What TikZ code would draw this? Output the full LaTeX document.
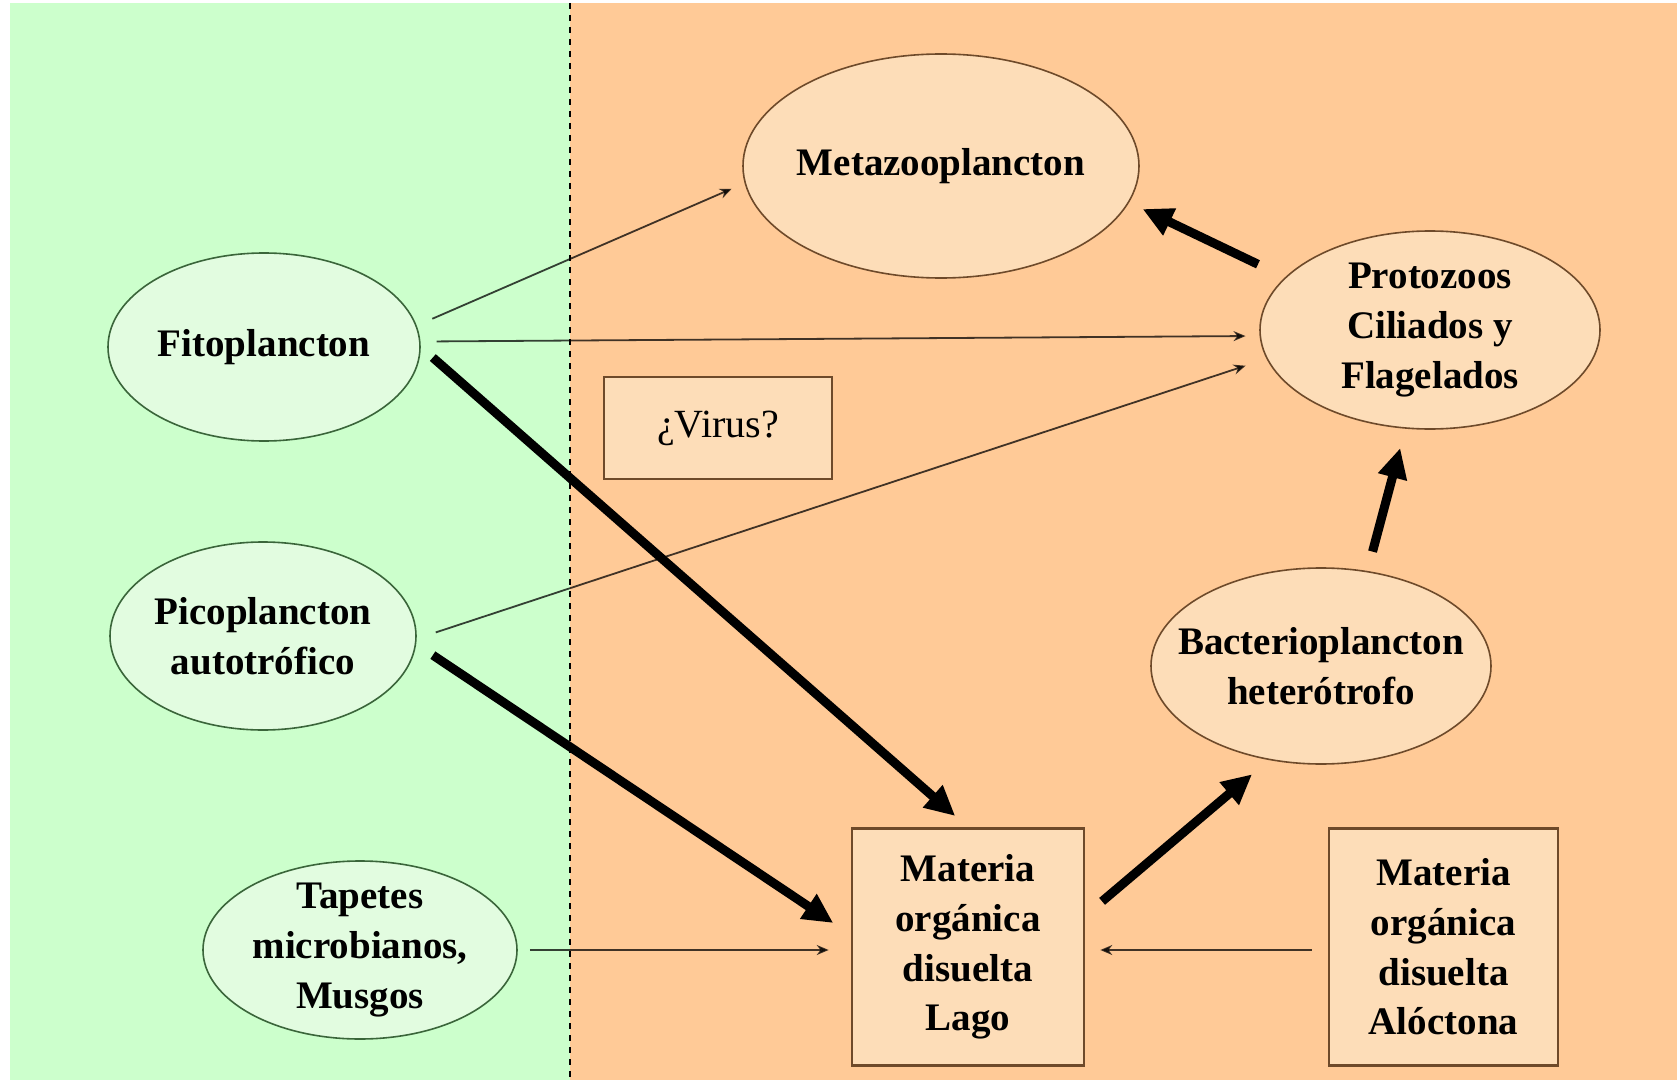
\documentclass[tikz,border=0pt]{standalone}
\usepackage{fontspec}
\setmainfont{Liberation Serif}
\usetikzlibrary{arrows.meta,shapes.geometric}
\definecolor{GreenBack}{HTML}{CCFFCC}
\definecolor{OrangeBack}{HTML}{FFCA97}
\definecolor{GreenSoft}{HTML}{E2FCE0}
\definecolor{OrangeSoft}{HTML}{FDDDB8}
\definecolor{GreenLine}{HTML}{3A653A}
\definecolor{BrownLine}{HTML}{6E4A2A}

\begin{document}
\begin{tikzpicture}[x=0.5pt,y=-0.5pt, every node/.style={font=\fontsize{19.5}{24.8}\selectfont\bfseries, align=center, inner sep=0pt},
  greenell/.style={ellipse, draw=GreenLine, fill=GreenSoft, line width=0.8pt},
  orangeell/.style={ellipse, draw=BrownLine, fill=OrangeSoft, line width=0.8pt},
  orangebox/.style={rectangle, draw=BrownLine, fill=OrangeSoft, line width=1.3pt},
  thinarrow/.style={-{Stealth[length=6pt,width=5pt]}, line width=0.9pt, black, opacity=0.75},
  thickarrow/.style={-{Triangle[length=15pt,width=14pt]}, line width=4.5pt, black}]
  \useasboundingbox (0,0) rectangle (1677,1086);
  % two zones
  \fill[white] (0,0) rectangle (1677,1086);
  \fill[GreenBack] (10,3) rectangle (570,1080);
  \fill[OrangeBack] (570,3) rectangle (1677,1080);
  \draw[dashed, line width=0.6pt] (570,3) -- (570,1080);

  % ellipses
  \node[orangeell, minimum width=198pt, minimum height=112pt, label={center:Metazooplancton}] (meta) at (941,166) {};
  \node[orangeell, minimum width=170pt, minimum height=99pt, label={center:{Protozoos\\Ciliados y\\Flagelados}}] (proto) at (1430,330) {};
  \node[greenell, minimum width=156pt, minimum height=94pt, label={center:Fitoplancton}] (fito) at (264,347) {};
  \node[greenell, minimum width=153pt, minimum height=94pt, label={center:{Picoplancton\\autotrófico}}] (pico) at (263,636) {};
  \node[greenell, minimum width=157pt, minimum height=89pt, label={center:{Tapetes\\microbianos,\\Musgos}}] (tap) at (360,950) {};
  \node[orangeell, minimum width=170pt, minimum height=98pt, label={center:{Bacterioplancton\\heterótrofo}}] (bac) at (1321,666) {};

  % boxes
  \node[orangebox, minimum width=114pt, minimum height=51pt, font=\fontsize{20}{24}\selectfont] (virus) at (718,428) {¿Virus?};
  \node[orangebox, minimum width=116pt, minimum height=118.5pt] (lago) at (968,947) {Materia\\orgánica\\disuelta\\Lago};
  \node[orangebox, minimum width=114.5pt, minimum height=118.5pt] (aloc) at (1443.5,947) {Materia\\orgánica\\disuelta\\Alóctona};

  % thin flows
  \draw[thinarrow, shorten <=8.5pt, shorten >=7pt] (fito.8) -- (meta.185);
  \draw[thinarrow, shorten <=8pt, shorten >=7pt] (fito.2) -- (proto.182.5);
  \draw[thinarrow, shorten <=10pt, shorten >=11pt] (pico.-1) -- (proto.190.5);
  \draw[thinarrow, shorten <=6pt, shorten >=11pt] (tap.east) -- (tap.east -| lago.west);
  \draw[thinarrow, shorten <=8pt, shorten >=7.5pt] (aloc.west |- tap.east) -- (lago.east |- tap.east);

  % thick flows
  \draw[thickarrow, shorten <=8pt, shorten >=8.5pt] (fito.0) -- (lago.north);
  \draw[thickarrow, shorten <=10pt, shorten >=10.5pt] (pico.-3) -- (lago.174);
  \draw[thickarrow, shorten <=11pt, shorten >=11pt] (lago.15) -- (bac.241);
  \draw[thickarrow, shorten <=10pt, shorten >=10pt] (bac.64) -- (proto.256);
  \draw[thickarrow, shorten <=15pt, shorten >=7.5pt] (proto.160) -- (meta.-11.5);
\end{tikzpicture}
\end{document}
